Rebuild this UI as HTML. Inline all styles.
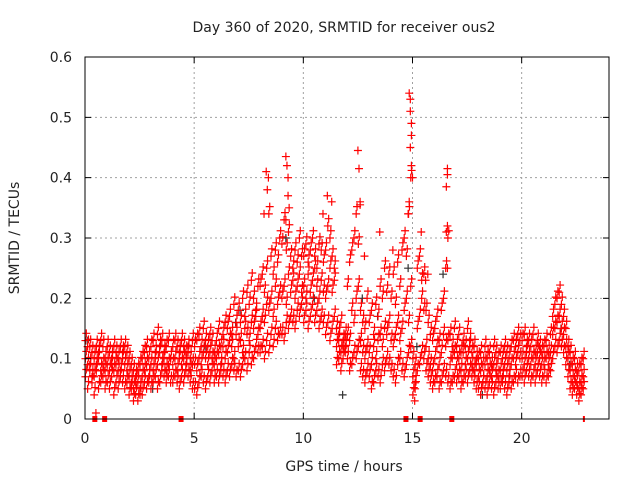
<!DOCTYPE html>
<html><head><meta charset="utf-8"><style>
body{margin:0;background:#fff}
svg text{font-family:"DejaVu Sans","Liberation Sans",sans-serif;font-size:14px;fill:#222}
</style></head><body>
<svg id="chart" width="640" height="480">
<g id="grid"></g>
<g id="marks"></g>
<rect x="85" y="57" width="524" height="362" fill="none" stroke="#000" stroke-width="1"/>
<g id="axes"></g>
<text x="344" y="32" text-anchor="middle">Day 360 of 2020, SRMTID for receiver ous2</text>
<text x="344" y="471" text-anchor="middle">GPS time / hours</text>
<text x="0" y="0" transform="translate(19,238) rotate(-90)" text-anchor="middle">SRMTID / TECUs</text>
</svg>
<script>
const xTicks=[0,5,10,15,20];
const yTicks=[0,0.1,0.2,0.3,0.4,0.5,0.6];
const yTickLabels=["0","0.1","0.2","0.3","0.4","0.5","0.6"];
const valsA=[.07,.05,.09,.06,.04,.08,.05,.06,.07,.05,.06,.05,.07,.04,.06,.05,.07,.06,.05,.06,.04,.05,.03,.04,.03,.05,.04,.06,.05,.06,.05,.06,.07,.05,.06,.08,.07,.06,.07,.06,.06,.07,.06,.05,.07,.06,.08,.07,.06,.05,.05,.04,.06,.07,.06,.05,.07,.06,.08,.06,.07,.06,.08,.07,.06,.08,.07,.09,.08,.07,.08,.07,.09,.10,.08,.11,.09,.10,.12,.11,.11,.12,.10,.13,.11,.14,.12,.15,.13,.14,.14,.13,.16,.15,.17,.16,.15,.18,.17,.19,.16,.18,.15,.17,.19,.16,.18,.15,.17,.16,.14,.16,.13,.15,.17,.09,.10,.08,.10,.11,.10,.08,.09,.11,.10,.12,.08,.07,.06,.08,.07,.05,.06,.08,.07,.06,.09,.08,.10,.09,.08,.07,.06,.09,.10,.08,.07,.09,.11,.12,.04,.05,.08,.09,.11,.10,.08,.07,.06,.05,.06,.07,.05,.06,.08,.07,.06,.05,.06,.07,.06,.07,.05,.06,.07,.06,.08,.07,.06,.05,.05,.04,.06,.05,.04,.06,.05,.04,.06,.05,.05,.06,.05,.04,.06,.05,.06,.07,.06,.07,.07,.06,.08,.07,.06,.07,.06,.08,.07,.06,.07,.06,.07,.08,.10,.12,.11,.13,.12,.11,.09,.07,.05,.04,.05,.04,.03,.04,.05];
const valsB=[.10,.12,.08,.11,.07,.09,.10,.08,.09,.10,.09,.08,.10,.08,.09,.10,.08,.11,.09,.08,.07,.06,.05,.07,.06,.04,.07,.08,.09,.07,.09,.08,.10,.09,.11,.09,.10,.08,.09,.10,.09,.10,.08,.11,.09,.10,.09,.11,.08,.09,.09,.08,.10,.09,.11,.10,.09,.11,.10,.09,.10,.11,.09,.12,.10,.11,.13,.12,.10,.14,.12,.13,.11,.15,.14,.13,.16,.15,.17,.14,.15,.17,.16,.19,.18,.20,.17,.22,.19,.21,.20,.22,.19,.24,.21,.23,.20,.22,.24,.21,.22,.20,.24,.21,.23,.25,.22,.20,.23,.21,.20,.22,.25,.21,.23,.12,.13,.11,.12,.14,.14,.13,.18,.16,.20,.22,.13,.11,.10,.12,.11,.09,.12,.10,.13,.14,.12,.15,.14,.16,.13,.12,.14,.16,.13,.15,.18,.20,.16,.22,.07,.06,.15,.17,.20,.18,.12,.10,.09,.08,.10,.12,.09,.11,.14,.12,.13,.09,.10,.11,.09,.10,.08,.11,.09,.10,.12,.09,.08,.09,.07,.08,.06,.09,.07,.08,.07,.09,.08,.07,.08,.07,.09,.08,.07,.09,.10,.09,.11,.10,.10,.09,.11,.10,.09,.10,.09,.11,.10,.09,.09,.10,.09,.11,.14,.15,.16,.17,.15,.14,.12,.10,.08,.06,.07,.06,.05,.06,.07];
const valsC=[.13,.09,.12,.07,.10,.12,.11,.13,.12,.08,.12,.11,.09,.12,.11,.08,.12,.10,.12,.11,.10,.09,.08,.06,.08,.09,.10,.11,.12,.10,.12,.13,.11,.14,.12,.13,.11,.12,.13,.10,.12,.13,.12,.10,.13,.12,.11,.12,.10,.13,.12,.13,.14,.12,.15,.13,.12,.14,.13,.11,.13,.15,.12,.14,.16,.15,.17,.14,.19,.16,.18,.16,.20,.17,.21,.19,.23,.20,.18,.22,.22,.24,.21,.25,.34,.27,.24,.28,.26,.30,.29,.33,.28,.31,.27,.25,.28,.26,.30,.27,.27,.29,.26,.28,.30,.27,.25,.29,.28,.26,.28,.32,.30,.27,.25,.15,.14,.16,.13,.12,.22,.26,.28,.30,.34,.29,.18,.16,.15,.20,.16,.18,.14,.19,.17,.22,.20,.25,.21,.24,.20,.24,.19,.26,.22,.28,.30,.27,.34,.40,.10,.09,.25,.27,.23,.24,.18,.16,.14,.13,.15,.17,.13,.18,.20,.25,.30,.14,.12,.15,.12,.14,.11,.13,.12,.15,.13,.11,.12,.10,.10,.11,.09,.12,.10,.11,.09,.12,.11,.10,.11,.10,.12,.11,.10,.12,.13,.12,.14,.13,.13,.14,.12,.13,.12,.14,.11,.13,.12,.11,.12,.13,.11,.14,.17,.19,.20,.21,.19,.17,.15,.12,.11,.09,.10,.08,.08,.09,.10];
const spikeT=[8.3,8.4,8.35,8.2,9.2,9.25,9.3,9.3,9.35,9.2,10.9,11.1,11.3,12.5,12.55,12.6,12.6,14.85,14.9,14.9,14.95,14.95,14.9,14.95,15.0,14.85,14.8,15.4,16.6,16.6,16.55,16.6,16.55,16.6,13.5,12.8,14.1,15.1,0.5,15.6,15.7];
const spikeV=[.41,.40,.38,.34,.435,.42,.40,.37,.35,.33,.34,.37,.36,.445,.415,.36,.355,.54,.53,.51,.49,.47,.45,.42,.40,.36,.34,.31,.415,.405,.385,.32,.31,.25,.31,.27,.28,.03,.01,.23,.24];
const blackT=[0.1,6.9,7.1,9.2,10.5,11.8,12.7,14.8,15.2,16.4,18.2,21.8,22.2,5.5,3.1,13.4];
const blackV=[.13,.16,.18,.30,.20,.04,.20,.25,.12,.24,.04,.15,.09,.12,.05,.17];
const gapT=[0.45,0.9,4.4,14.7,15.35,16.8,22.85];
const NS="http://www.w3.org/2000/svg";
const X0=85,X1=609,Y0=419,Y1=57;
function sx(t){return X0+t*(X1-X0)/24;}
function sy(v){return Y0-v*(Y0-Y1)/0.6;}
function mk(tag,a,p){const e=document.createElementNS(NS,tag);for(const k in a)e.setAttribute(k,a[k]);p.appendChild(e);return e;}
const grid=document.getElementById('grid'),axes=document.getElementById('axes'),marks=document.getElementById('marks');
xTicks.forEach((t,i)=>{
  if(t>0){const g=mk('line',{x1:sx(t),x2:sx(t),y1:Y1,y2:Y0,stroke:'#a0a0a0','stroke-dasharray':'2,3'},grid);
  
  }
  const tk=mk('path',{d:`M${sx(t)},${Y0}v-6M${sx(t)},${Y1}v6`,stroke:'#000'},axes);
  
  
  const l=mk('text',{x:sx(t),y:443,'text-anchor':'middle'},axes);l.textContent=String(t);
  
  
});
yTicks.forEach((v,i)=>{
  if(v>0&&v<0.6){const g=mk('line',{x1:X0,x2:X1,y1:sy(v),y2:sy(v),stroke:'#a0a0a0','stroke-dasharray':'2,3'},grid);
  
  }
  const tk=mk('path',{d:`M${X0},${sy(v)}h6M${X1},${sy(v)}h-6`,stroke:'#000'},axes);
  
  
  const l=mk('text',{x:72,y:sy(v)+5,'text-anchor':'end'},axes);l.textContent=yTickLabels[i];
  
  
});
function plus(t,v,c,name){
  const x=sx(t),y=sy(v);
  const p=mk('path',{d:`M${x-4},${y}h8M${x},${y-4}v8`,stroke:c,'stroke-width':1.2},marks);
  
  
}
blackT.forEach((t,i)=>plus(t,blackV[i],'#333','black-point'));
[valsA,valsB,valsC].forEach(arr=>arr.forEach((v,i)=>{
  plus(i*0.1+0.02,v,'#ff0000','red-point');
  plus(i*0.1+0.06,v+0.012,'#ff0000','red-point');
}));
spikeT.forEach((t,i)=>plus(t,spikeV[i],'#ff0000','spike-point'));
gapT.forEach((t,i)=>{
  const w=i===gapT.length-1?2:5;
  const r=mk('rect',{x:sx(t)-w/2,y:Y0-3,width:w,height:6,fill:'#ff0000'},marks);
  
  
});
</script>
</body></html>
